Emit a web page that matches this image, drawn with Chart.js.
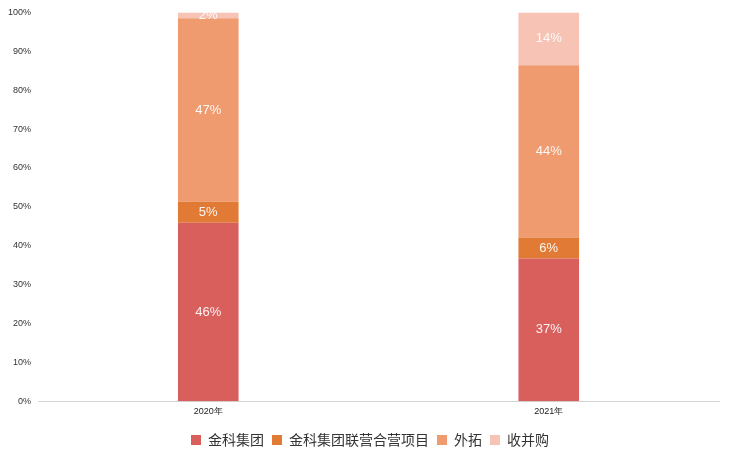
<!DOCTYPE html>
<html>
<head>
<meta charset="utf-8">
<script src="https://cdn.jsdelivr.net/npm/chart.js@4"></script>
<style>
  html, body { margin: 0; padding: 0; background: #fff; }
  #wrap { width: 731px; height: 455px; }
</style>
</head>
<body>
<div id="wrap"><canvas id="shareChart"></canvas></div>
<script>
const years = ['2020年', '2021年'];
const seriesNames = ['金科集团', '金科集团联营合营项目', '外拓', '收并购'];
// bar heights as measured (share of 100%)
const jinke = [45.9, 36.7];
const jointVenture = [5.4, 5.4];
const external = [47.2, 44.3];
const mergers = [1.5, 13.6];
// percentages printed on the segments
const jinkeText = [46, 37];
const jointVentureText = [5, 6];
const externalText = [47, 44];
const mergersText = [2, 14];
const yTicks = [0, 10, 20, 30, 40, 50, 60, 70, 80, 90, 100];

const colors = ['#d95f5d', '#e07a34', '#f09b6f', '#f6c3b4'];

const segLabels = {
  id: 'segLabels',
  afterDatasetsDraw(chart) {
    const ctx = chart.ctx;
    ctx.save();
    ctx.font = '13px "Liberation Sans", Arial, sans-serif';
    ctx.fillStyle = 'rgba(255,255,255,0.92)';
    ctx.textAlign = 'center';
    ctx.textBaseline = 'middle';
    chart.data.datasets.forEach((ds, i) => {
      chart.getDatasetMeta(i).data.forEach((bar, j) => {
        const mid = (bar.y + bar.base) / 2;
        ctx.fillText(ds.shown[j] + '%', bar.x, mid);
      });
    });
    ctx.restore();
  }
};

// nudge the legend a little to sit where the original one is
const legendNudge = {
  id: 'legendNudge',
  afterLayout(chart) {
    const lg = chart.legend;
    if (!lg || lg._nudged) return;
    const orig = lg.draw.bind(lg);
    lg.draw = function () {
      chart.ctx.save();
      chart.ctx.translate(10, 3);
      orig();
      chart.ctx.restore();
    };
    lg._nudged = true;
  }
};

const ctx = document.getElementById('shareChart').getContext('2d');
new Chart(ctx, {
  type: 'bar',
  data: {
    labels: years,
    datasets: [
      { label: seriesNames[0], data: jinke, shown: jinkeText, backgroundColor: colors[0] },
      { label: seriesNames[1], data: jointVenture, shown: jointVentureText, backgroundColor: colors[1] },
      { label: seriesNames[2], data: external, shown: externalText, backgroundColor: colors[2] },
      { label: seriesNames[3], data: mergers, shown: mergersText, backgroundColor: colors[3] }
    ]
  },
  options: {
    responsive: true,
    maintainAspectRatio: false,
    animation: false,
    layout: { padding: { left: 1, right: 12, top: 3, bottom: 1 } },
    datasets: { bar: { categoryPercentage: 1, barPercentage: 0.178 } },
    scales: {
      x: {
        stacked: true,
        grid: { display: false, drawTicks: false },
        border: { color: '#d4d4d4' },
        ticks: { color: '#222', font: { size: 9, family: '"Liberation Sans", Arial, sans-serif' }, padding: 5 }
      },
      y: {
        stacked: true,
        min: 0,
        max: 100,
        afterBuildTicks: axis => { axis.ticks = yTicks.map(v => ({ value: v })); },
        grid: { display: false, drawTicks: false },
        border: { display: false },
        ticks: {
          color: '#333',
          font: { size: 9, family: '"Liberation Sans", Arial, sans-serif' },
          padding: 7,
          callback: v => v + '%'
        }
      }
    },
    plugins: {
      legend: {
        position: 'bottom',
        labels: {
          boxWidth: 10,
          boxHeight: 10,
          padding: 8,
          color: '#333',
          font: { size: 14, family: '"Noto Sans CJK SC", sans-serif' }
        }
      },
      tooltip: { enabled: false }
    }
  },
  plugins: [segLabels, legendNudge]
});
</script>
</body>
</html>
